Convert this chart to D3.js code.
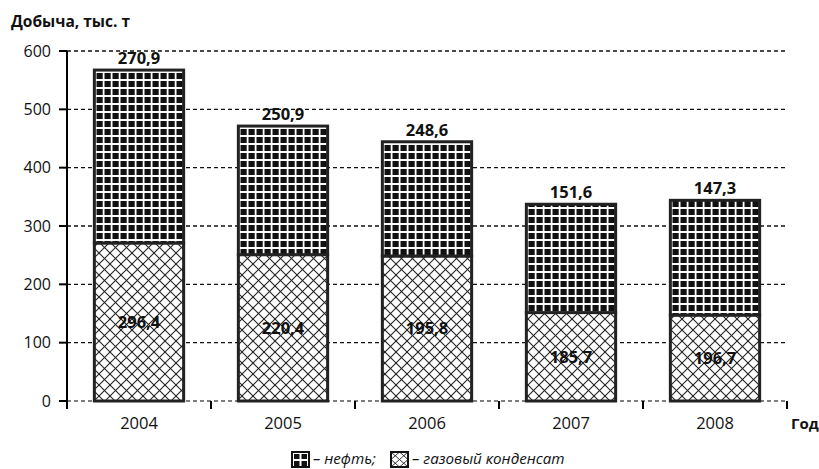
<!DOCTYPE html>
<html>
<head>
<meta charset="utf-8">
<script src="https://cdn.jsdelivr.net/npm/d3@7/dist/d3.min.js"></script>
<style>
  html, body { margin: 0; padding: 0; background: #fff; }
  svg { display: block; font-family: "Open Sans", "Noto Sans", sans-serif; font-stretch: 90%; }
</style>
</head>
<body>
<svg id="chart" width="819" height="469"></svg>
<script>
// Добыча нефти и газового конденсата по годам, тыс. т
const years = ["2004", "2005", "2006", "2007", "2008"];
const condensate = [270.9, 250.9, 248.6, 151.6, 147.3];   // нижний сегмент
const oil = [296.4, 220.4, 195.8, 185.7, 196.7];          // верхний сегмент
const yTicks = [0, 100, 200, 300, 400, 500, 600];
const yTitle = "Добыча, тыс. т";
const xTitle = "Год";
const legendOil = "– нефть;";
const legendCond = "– газовый конденсат";

const fmt = v => d3.format(".1f")(v).replace(".", ",");

const svg = d3.select("#chart");
const plotL = 67, plotR = 787, plotT = 51, plotB = 401;

const x = d3.scaleBand().domain(years).range([plotL, plotR])
  .paddingInner(0.38).paddingOuter(0.19);
const y = d3.scaleLinear().domain([0, 600]).range([plotB, plotT]);

// patterns
const defs = svg.append("defs");
const pOil = defs.append("pattern").attr("id", "oil")
  .attr("patternUnits", "userSpaceOnUse").attr("width", 8).attr("height", 8);
pOil.append("rect").attr("width", 8).attr("height", 8).attr("fill", "#fff");
pOil.append("rect").attr("x", 0.5).attr("y", 1).attr("width", 6.2).attr("height", 6).attr("fill", "#111");

function hatch(id, s) {
  const p = defs.append("pattern").attr("id", id)
    .attr("patternUnits", "userSpaceOnUse").attr("width", s).attr("height", s);
  p.append("rect").attr("width", s).attr("height", s).attr("fill", "#fff");
  [[0, 0, s, s], [s, 0, 0, s], [-s / 2, s / 2, s / 2, s * 1.5], [s / 2, -s / 2, s * 1.5, s / 2],
   [s / 2, -s / 2, -s / 2, s / 2], [s * 1.5, s / 2, s / 2, s * 1.5]].forEach(d => {
    p.append("line").attr("x1", d[0]).attr("y1", d[1]).attr("x2", d[2]).attr("y2", d[3])
      .attr("stroke", "#222").attr("stroke-width", 1.1);
  });
  return p;
}
hatch("cond", 11);

// gridlines
svg.append("g").selectAll("line").data(yTicks).join("line")
  .attr("x1", plotL).attr("x2", plotR)
  .attr("y1", d => y(d)).attr("y2", d => y(d))
  .attr("stroke", d => d === 0 ? "#555" : "#111")
  .attr("stroke-width", 1.4)
  .attr("stroke-dasharray", "4,3");

// bars
const data = years.map((yr, i) => ({ yr, cond: condensate[i], oil: oil[i] }));
const bars = svg.append("g");
bars.selectAll(".cond").data(data).join("rect")
  .attr("class", "cond")
  .attr("x", d => x(d.yr)).attr("width", x.bandwidth())
  .attr("y", d => y(d.cond)).attr("height", d => y(0) - y(d.cond))
  .attr("fill", "url(#cond)").attr("stroke", "#222").attr("stroke-width", 3);
bars.selectAll(".oil").data(data).join("rect")
  .attr("class", "oil")
  .attr("x", d => x(d.yr)).attr("width", x.bandwidth())
  .attr("y", d => y(d.cond + d.oil)).attr("height", d => y(d.cond) - y(d.cond + d.oil))
  .attr("fill", "url(#oil)").attr("stroke", "#222").attr("stroke-width", 3);

// axes
svg.append("line").attr("x1", plotL).attr("x2", plotL).attr("y1", plotT).attr("y2", plotB + 8)
  .attr("stroke", "#000").attr("stroke-width", 2);
svg.append("g").selectAll("line").data(yTicks).join("line")
  .attr("x1", plotL - 8).attr("x2", plotL).attr("y1", d => y(d)).attr("y2", d => y(d))
  .attr("stroke", "#000").attr("stroke-width", 2);
const bounds = d3.range(years.length + 1).map(i => plotL + i * x.step());
svg.append("g").selectAll("line").data(bounds).join("line")
  .attr("x1", d => d).attr("x2", d => d).attr("y1", plotB).attr("y2", plotB + 8)
  .attr("stroke", "#000").attr("stroke-width", 2);

svg.append("g").selectAll("text").data(yTicks).join("text")
  .attr("x", plotL - 16).attr("y", d => y(d)).attr("dy", "0.36em")
  .attr("text-anchor", "end").attr("font-size", 16).attr("fill", "#111")
  .text(d => d);
svg.append("g").selectAll("text").data(years).join("text")
  .attr("x", d => x(d) + x.bandwidth() / 2).attr("y", 429)
  .attr("text-anchor", "middle").attr("font-size", 16.5).attr("fill", "#111")
  .text(d => d);

svg.append("text").attr("x", 11).attr("y", 27).attr("font-size", 15.5)
  .attr("font-weight", "bold").attr("fill", "#111").text(yTitle);
svg.append("text").attr("x", 791).attr("y", 429).attr("font-size", 15)
  .attr("font-weight", "bold").attr("fill", "#111").text(xTitle);

// value labels
svg.append("g").selectAll("text").data(data).join("text")
  .attr("x", d => x(d.yr) + x.bandwidth() / 2).attr("y", d => y(d.cond + d.oil) - 6)
  .attr("text-anchor", "middle").attr("font-size", 16.5).attr("font-weight", "bold").attr("fill", "#111")
  .text(d => fmt(d.cond));
svg.append("g").selectAll("text").data(data).join("text")
  .attr("x", d => x(d.yr) + x.bandwidth() / 2).attr("y", d => y(d.cond / 2)).attr("dy", "0.36em")
  .attr("text-anchor", "middle").attr("font-size", 16.5).attr("font-weight", "bold").attr("fill", "#111")
  .text(d => fmt(d.oil));

// legend
const lg = svg.append("g");
lg.append("rect").attr("x", 292).attr("y", 452).attr("width", 17).attr("height", 15)
  .attr("fill", "#fff").attr("stroke", "#111").attr("stroke-width", 2);
[[294, 454], [301.5, 454], [294, 461], [301.5, 461]].forEach(p => {
  lg.append("rect").attr("x", p[0]).attr("y", p[1]).attr("width", 5.5).attr("height", 5).attr("fill", "#111");
});
lg.append("text").attr("x", 313).attr("y", 464).attr("font-size", 15.2).attr("font-style", "italic")
  .attr("fill", "#111").text(legendOil);
const ic = lg.append("g");
const icx = 391, icy = 452, w = 17, h = 15;
ic.append("clipPath").attr("id", "icclip").append("rect")
  .attr("x", icx).attr("y", icy).attr("width", w).attr("height", h);
ic.append("rect").attr("x", icx).attr("y", icy).attr("width", w).attr("height", h).attr("fill", "#fff");
const icLines = [[icx, icy, icx + w, icy + h], [icx + w, icy, icx, icy + h],
  [icx + w / 2, icy, icx, icy + h / 2], [icx + w / 2, icy, icx + w, icy + h / 2],
  [icx, icy + h / 2, icx + w / 2, icy + h], [icx + w, icy + h / 2, icx + w / 2, icy + h]];
ic.selectAll("line").data(icLines).join("line")
  .attr("x1", d => d[0]).attr("y1", d => d[1]).attr("x2", d => d[2]).attr("y2", d => d[3])
  .attr("stroke", "#333").attr("stroke-width", 1).attr("clip-path", "url(#icclip)");
ic.append("rect").attr("x", icx).attr("y", icy).attr("width", w).attr("height", h)
  .attr("fill", "none").attr("stroke", "#111").attr("stroke-width", 2);
lg.append("text").attr("x", 412).attr("y", 464).attr("font-size", 15.2).attr("font-style", "italic")
  .attr("fill", "#111").text(legendCond);
</script>
</body>
</html>
